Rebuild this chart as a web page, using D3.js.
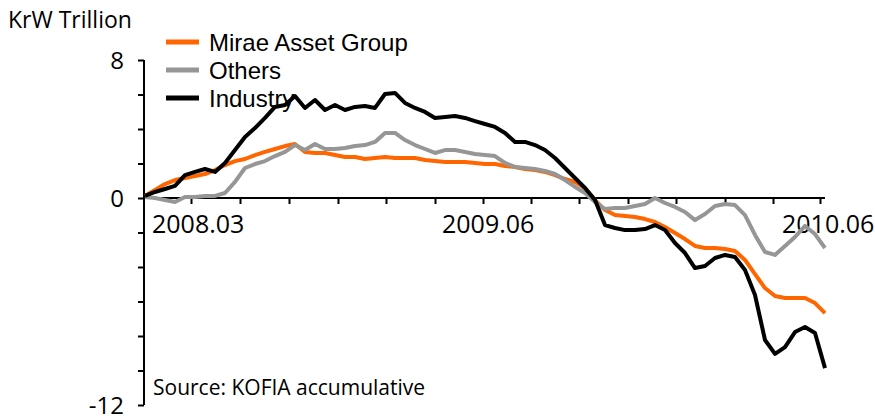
<!DOCTYPE html>
<html><head><meta charset="utf-8">
<script src="https://cdn.jsdelivr.net/npm/d3@7"></script>
<style>
body{margin:0;background:#fff;}
text{font-family:"Open Sans","Noto Sans",sans-serif;fill:#000;}
</style></head>
<body><svg id="c" width="875" height="420"></svg>
<script>
const industry = [0.12,0.35,0.52,0.70,1.33,1.51,1.68,1.51,2.03,2.78,3.54,4.06,4.64,5.28,5.39,5.91,5.22,5.68,5.10,5.39,5.10,5.28,5.33,5.22,6.03,6.09,5.51,5.22,4.99,4.64,4.70,4.75,4.64,4.46,4.29,4.12,3.77,3.25,3.25,3.07,2.78,2.32,1.74,1.16,0.58,-0.12,-1.57,-1.74,-1.86,-1.86,-1.80,-1.57,-1.86,-2.61,-3.19,-4.06,-3.94,-3.48,-3.30,-3.42,-4.17,-5.62,-8.23,-9.04,-8.64,-7.77,-7.48,-7.83,-9.86];
const mirae = [0.12,0.46,0.81,1.04,1.16,1.28,1.39,1.62,1.91,2.14,2.26,2.49,2.67,2.84,3.01,3.13,2.67,2.61,2.61,2.49,2.38,2.38,2.26,2.32,2.38,2.32,2.32,2.32,2.20,2.14,2.09,2.09,2.09,2.03,1.97,1.97,1.86,1.80,1.68,1.62,1.51,1.33,1.10,0.93,0.58,-0.12,-0.70,-0.99,-1.04,-1.10,-1.22,-1.39,-1.68,-2.03,-2.38,-2.78,-2.90,-2.90,-2.96,-3.07,-3.59,-4.41,-5.22,-5.68,-5.80,-5.80,-5.80,-6.09,-6.67];
const others = [0.06,0.00,-0.12,-0.23,0.06,0.06,0.12,0.12,0.29,0.93,1.74,1.97,2.14,2.43,2.67,3.07,2.78,3.13,2.84,2.84,2.90,3.01,3.07,3.25,3.77,3.77,3.36,3.07,2.84,2.61,2.78,2.78,2.67,2.55,2.49,2.43,2.03,1.80,1.74,1.68,1.57,1.39,1.04,0.64,0.29,-0.23,-0.64,-0.58,-0.58,-0.46,-0.35,0.00,-0.29,-0.52,-0.81,-1.28,-0.93,-0.46,-0.35,-0.41,-0.99,-2.14,-3.13,-3.30,-2.78,-2.26,-1.62,-2.09,-2.90];
const seriesNames = ["Mirae Asset Group","Others","Industry"];
const seriesColors = ["#FF6600","#969696","#000000"];
const xTicks = [4.6,9.5,14.4,19.3,24.1,29.0,33.8,38.6,43.4,48.3,53.1,58.0,62.8,67.5];
const xLabels = ["2008.03","2009.06","2010.06"];
const xLabelPos = [0.7,29.7,63.7];
const yTicks = [8,6,4,2,0,-2,-4,-6,-8,-10,-12];
const yLabels = [8,0,-12];

const svg = d3.select("#c");
const x = d3.scaleLinear().domain([0, industry.length-1]).range([145, 825]);
const y = d3.scaleLinear().domain([-12, 8]).range([405, 60]);

// y axis
const yAxis = svg.append("g").attr("transform","translate(144,0)")
  .call(d3.axisLeft(y).tickValues(yTicks).tickSize(6).tickFormat(""));
yAxis.selectAll("path,line").attr("stroke","#000").attr("stroke-width",2);
yAxis.select(".domain").attr("d","M0,"+y(8)+"V"+y(-12));

svg.selectAll("text.ylab").data(yLabels).enter().append("text")
  .attr("class","ylab").attr("x",124).attr("y",d=>y(d)).attr("dy","0.36em")
  .attr("text-anchor","end").style("font-size","24px").text(d=>d);

// x axis at zero
const xAxis = svg.append("g").attr("transform","translate(0,"+y(0)+")")
  .call(d3.axisBottom(x).tickValues(xTicks).tickSize(6).tickFormat(""));
xAxis.selectAll("path,line").attr("stroke","#000").attr("stroke-width",2);
xAxis.select(".domain").attr("d","M143,0H825");

svg.selectAll("text.xlab").data(xLabels).enter().append("text")
  .attr("class","xlab").attr("x",(d,i)=>x(xLabelPos[i])).attr("y",233)
  .attr("text-anchor","start").style("font-size","25px").text(d=>d);

// lines
const line = d3.line().x((d,i)=>x(i)).y(d=>y(d));
const data = [mirae, others, industry];
svg.selectAll("path.series").data(data).enter().append("path")
  .attr("class","series").attr("d",line).attr("fill","none")
  .attr("stroke",(d,i)=>seriesColors[i]).attr("stroke-width",4)
  .attr("stroke-linejoin","round");

// title
svg.append("text").attr("x",8).attr("y",28).style("font-size","23px").text("KrW Trillion");

// legend
const lg = svg.selectAll("g.lg").data(seriesNames).enter().append("g")
  .attr("transform",(d,i)=>"translate(166,"+(42+i*28)+")");
lg.append("line").attr("x1",0).attr("x2",33).attr("y1",0).attr("y2",0)
  .attr("stroke",(d,i)=>seriesColors[i]).attr("stroke-width",5);
lg.append("text").attr("x",43).attr("y",0).attr("dy","0.36em")
  .style("font-family","'Liberation Sans',Arial,sans-serif")
  .style("font-size","24px").text(d=>d);

// source
svg.append("text").attr("x",153).attr("y",395).style("font-size","21px").text("Source: KOFIA accumulative");
</script></body></html>
